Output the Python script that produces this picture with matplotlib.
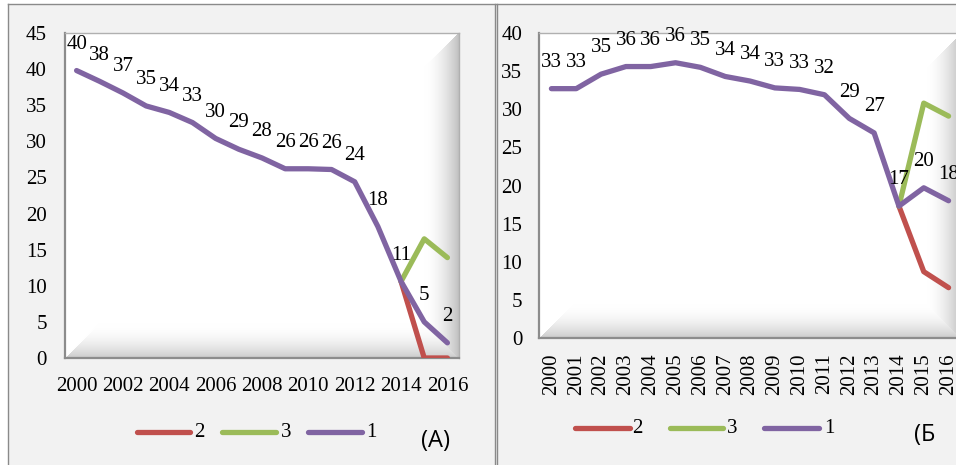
import numpy as np
import matplotlib
matplotlib.use("Agg")
import matplotlib.pyplot as plt
from matplotlib.lines import Line2D
from matplotlib.patches import Rectangle

# ---------------- data ----------------
years = list(range(2000, 2017))
year_labels = [str(y) for y in years]

a_s1 = [39.8, 38.3, 36.7, 34.9, 34.0, 32.6, 30.4, 28.9, 27.7, 26.2, 26.2, 26.1, 24.4, 18.2, 10.6, 5.0, 2.1]
a_s2 = [None] * 14 + [10.6, 0.0, 0.0]
a_s3 = [None] * 14 + [10.6, 16.5, 13.9]
a_labels = ["40", "38", "37", "35", "34", "33", "30", "29", "28", "26", "26", "26", "24", "18", "11", "5", "2"]

b_s1 = [32.7, 32.7, 34.6, 35.6, 35.6, 36.1, 35.5, 34.3, 33.7, 32.8, 32.6, 31.9, 28.8, 26.9, 17.3, 19.7, 18.0]
b_s2 = [None] * 14 + [17.3, 8.7, 6.6]
b_s3 = [None] * 14 + [17.3, 30.8, 29.1]
b_labels = ["33", "33", "35", "36", "36", "36", "35", "34", "34", "33", "33", "32", "29", "27", "17", "20", "18"]

series_names = ["2", "3", "1"]
colors = {"2": "#C0504D", "3": "#9BBB59", "1": "#8064A2"}

W, H = 956, 465
serif = ["Liberation Serif", "DejaVu Serif"]
FS = 15

fig = plt.figure(figsize=(W / 100, H / 100), dpi=100)
fig.patch.set_facecolor("white")

def fx(x):
    return x / W

def fy(y):
    return (H - y) / H

# panel backgrounds and borders
fig.add_artist(Rectangle((fx(8), 0), fx(956 - 8), fy(4), transform=fig.transFigure,
                         facecolor="#f2f2f2", edgecolor="none", zorder=-10))
for (x0, y0, x1, y1) in [(8, 4, 956, 4), (8, 4, 8, 465), (495, 4, 495, 465), (497, 4, 497, 465)]:
    fig.add_artist(Line2D([fx(x0), fx(x1)], [fy(y0), fy(y1)], transform=fig.transFigure,
                          color="#8a8a8a", lw=1.0, zorder=-5))


def bevel(ax, wpx, hpx, bw=34):
    X, Y = np.meshgrid(np.arange(int(wpx)), np.arange(int(hpx)))
    dl = X
    dr = wpx - 1 - X
    dt = Y
    db = hpx - 1 - Y
    img = np.ones((int(hpx), int(wpx)))
    right = (dr < bw) & (dr < dt) & (dr <= db)
    bottom = (db < bw) & (db < dl) & (db < dr)
    t_r = 1 - dr / bw
    t_b = 1 - db / bw
    img[right] = 1 - 0.24 * t_r[right] ** 1.8
    img[bottom] = 1 - 0.20 * t_b[bottom] ** 2.0
    rgb = np.dstack([img, img, img])
    ax.imshow(rgb, extent=(0, 1, 0, 1), transform=ax.transAxes, aspect="auto",
              zorder=0, interpolation="bilinear")


def make_panel(rect_px, ymax, ystep, s1, s2, s3, labels, tick_every, rotate, ypad, xpad):
    l, t, r, b = rect_px
    ax = fig.add_axes([fx(l), fy(b), fx(r - l), (b - t) / H])
    ax.set_facecolor("white")
    bevel(ax, r - l, b - t)
    x = np.arange(len(years))
    data = {"2": s2, "3": s3, "1": s1}
    for name in series_names:
        vals = np.array([np.nan if v is None else v for v in data[name]], dtype=float)
        ax.plot(x, vals, color=colors[name], lw=3.8, solid_capstyle="round",
                solid_joinstyle="round", zorder=3)
    for xi, v, lab in zip(x, s1, labels):
        ax.annotate(lab, (xi, v), xytext=(0, 19), textcoords="offset points",
                    ha="center", va="center", fontsize=FS, family=serif, zorder=4)
    ax.set_xlim(-0.5, len(years) - 0.5)
    ax.set_ylim(0, ymax)
    ax.set_yticks(np.arange(0, ymax + 1, ystep))
    ax.set_yticklabels([str(v) for v in range(0, ymax + 1, ystep)], family=serif, fontsize=FS)
    ax.set_xticks(x[::tick_every])
    ax.set_xticklabels(year_labels[::tick_every], family=serif, fontsize=FS,
                       rotation=90 if rotate else 0)
    ax.tick_params(axis="both", length=0)
    ax.tick_params(axis="y", pad=ypad)
    ax.tick_params(axis="x", pad=xpad)
    for side in ["top", "right"]:
        ax.spines[side].set_color("#b0b0b0")
        ax.spines[side].set_linewidth(1.0)
    for side in ["left", "bottom"]:
        ax.spines[side].set_color("#8c8c8c")
        ax.spines[side].set_linewidth(1.6)
    return ax


axA = make_panel((65, 33, 459, 358), 45, 5, a_s1, a_s2, a_s3, a_labels, 2, False, 13, 14)
axB = make_panel((539, 33, 961, 338), 40, 5, b_s1, b_s2, b_s3, b_labels, 1, True, 12, 11)


def legend(items, y):
    for name, x0, x1, xt in items:
        fig.add_artist(Line2D([fx(x0), fx(x1)], [fy(y), fy(y)], transform=fig.transFigure,
                              color=colors[name], lw=3.8, solid_capstyle="round"))
        fig.text(fx(xt), fy(y), name, family=serif, fontsize=FS, ha="left", va="center")


legend([("2", 137, 190, 194), ("3", 222, 276, 281), ("1", 308, 362, 366)], 432)
legend([("2", 575, 630, 632), ("3", 670, 723, 727), ("1", 764, 819, 824)], 428)

fig.text(fx(421), fy(441), "(A)", family=["Open Sans", "DejaVu Sans"], fontsize=17,
         ha="left", va="center")
fig.text(fx(914), fy(435), "(Б", family=["Open Sans", "DejaVu Sans"], fontsize=17,
         ha="left", va="center")

fig.savefig("out.png", dpi=100, facecolor=fig.get_facecolor())
